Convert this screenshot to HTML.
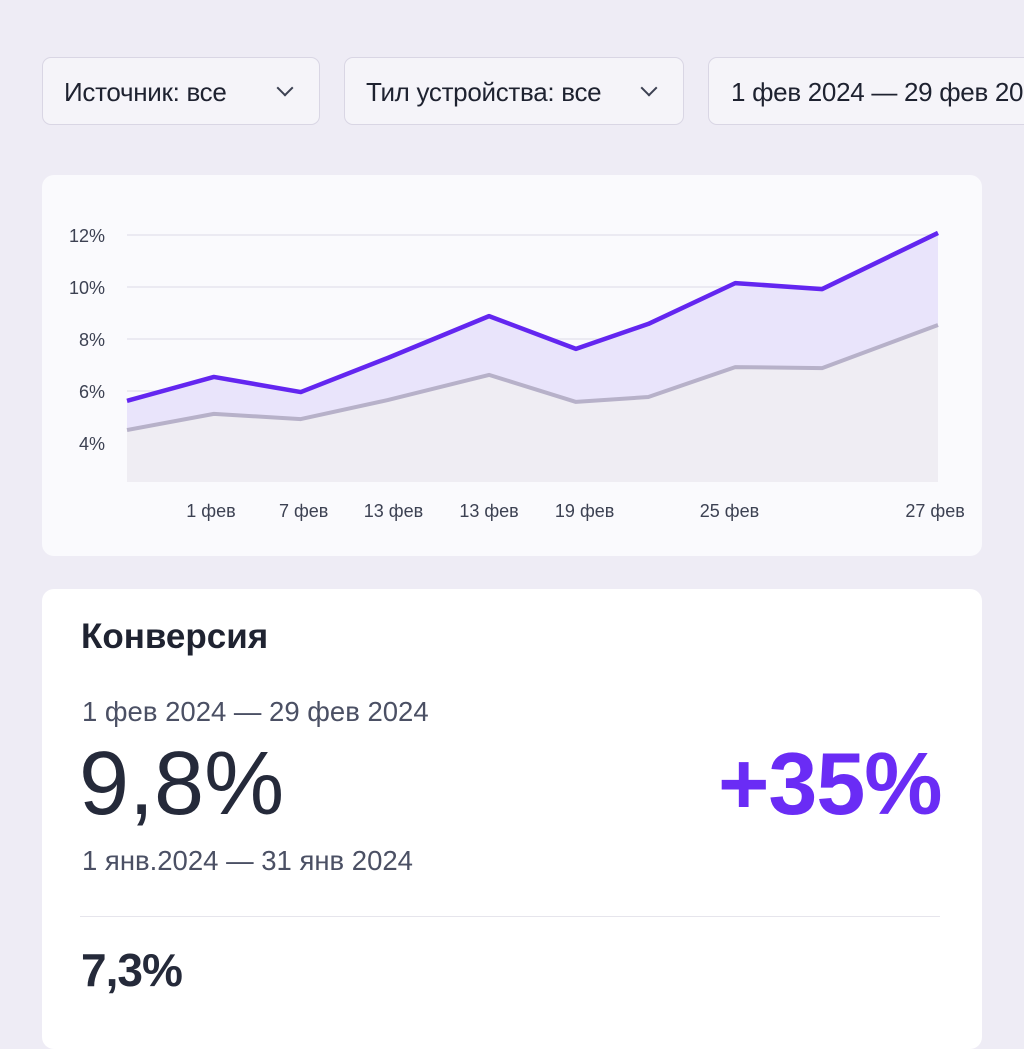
<!DOCTYPE html>
<html><head><meta charset="utf-8">
<style>
body{margin:0;width:1024px;height:1024px;overflow:hidden;background:#eeecf5;font-family:"Liberation Sans",sans-serif;color:#222736;position:relative}
.f{position:absolute;top:57px;height:68px;background:#f5f4f9;border:1px solid #d9d6e4;border-radius:9px;box-sizing:border-box;font-size:26px;line-height:68px;padding-left:21px;color:#1e2230;letter-spacing:-0.3px;white-space:nowrap;overflow:hidden}
.chev{position:absolute;top:24px;width:10px;height:10px;border-right:2.5px solid #3c4152;border-bottom:2.5px solid #3c4152;transform:rotate(45deg)}
.card{position:absolute;left:42px;width:940px;background:#fafafd;border-radius:12px}
.t{position:absolute;white-space:nowrap}
</style></head><body>
<div class="f" style="left:42px;width:278px">Источник: все<span class="chev" style="left:236px"></span></div>
<div class="f" style="left:344px;width:340px">Тил устройства: все<span class="chev" style="left:298px"></span></div>
<div class="f" style="left:708px;width:340px;padding-left:22px">1 фев 2024 — 29 фев 2024</div>

<div class="card" style="top:175px;height:381px">
<svg id="chart" width="940" height="381" style="position:absolute;left:0;top:0"></svg>
</div>

<div class="card" style="top:589px;height:460px;background:#fff">
<div class="t" style="left:39px;top:28px;font-size:35px;font-weight:bold;color:#1f2331">Конверсия</div>
<div class="t" style="left:40px;top:107px;font-size:27.5px;color:#4b5064">1 фев 2024 — 29 фев 2024</div>
<div class="t" style="left:37px;top:144px;font-size:90px;font-weight:500;color:#252a3a">9,8%</div>
<div class="t" style="left:676px;top:144px;font-size:88px;font-weight:bold;color:#6a2cf5;letter-spacing:-1px">+35%</div>
<div class="t" style="left:40px;top:256px;font-size:27.5px;color:#4b5064">1 янв.2024 — 31 янв 2024</div>
<div style="position:absolute;left:38px;top:327px;width:860px;height:1px;background:#e6e5ec"></div>
<div class="t" style="left:39px;top:354px;font-size:46px;font-weight:bold;color:#252a3a;letter-spacing:-1px">7,3%</div>
</div>

<script>
const days=[0,3,6,9,12.5,15.5,18,21,24,28];
const current=[5.62,6.54,5.96,7.27,8.88,7.62,8.58,10.15,9.92,12.08];
const previous=[4.5,5.12,4.92,5.65,6.62,5.58,5.77,6.92,6.88,8.54];
const yTicks=[4,6,8,10,12];
const xLabels=["1 фев","7 фев","13 фев","13 фев","19 фев","25 фев","27 фев"];
const xLabelDays=[2.9,6.1,9.2,12.5,15.8,20.8,27.9];
const NS="http://www.w3.org/2000/svg";
const svg=document.getElementById('chart');
const X0=85,X1=896,D1=28,YB=268,PXP=26,BOT=307;
const x=d=>X0+(d/D1)*(X1-X0);
const y=v=>YB-(v-4)*PXP;
function el(t,a){const e=document.createElementNS(NS,t);for(const k in a)e.setAttribute(k,a[k]);svg.appendChild(e);return e;}
yTicks.forEach(v=>{
 const l=el('line',{x1:X0,x2:X1,y1:y(v),y2:y(v),stroke:'#e6e4ee','stroke-width':1.5});
 
 
 const t=el('text',{x:63,y:y(v)+7,'text-anchor':'end','font-size':18,fill:'#3c4152','font-family':'Liberation Sans'});
 t.textContent=v+'%';
 
 
});
const pc=days.map((d,i)=>x(d)+','+y(current[i])).join(' ');
const pp=days.map((d,i)=>x(d)+','+y(previous[i])).join(' ');
const a1=el('polygon',{points:pc+' '+[...days].reverse().map((d,j)=>x(d)+','+y(previous[days.length-1-j])).join(' '),fill:'#e9e4fb'});


const a2=el('polygon',{points:pp+' '+x(days[days.length-1])+','+BOT+' '+x(days[0])+','+BOT,fill:'#efedf3'});


const l2=el('polyline',{points:pp,fill:'none',stroke:'#b7b1c9','stroke-width':4,'stroke-linejoin':'round'});


const l1=el('polyline',{points:pc,fill:'none',stroke:'#6326f0','stroke-width':4.5,'stroke-linejoin':'round'});


xLabels.forEach((s,i)=>{
 const t=el('text',{x:x(xLabelDays[i]),y:342,'text-anchor':'middle','font-size':18,fill:'#3c4152','font-family':'Liberation Sans'});
 t.textContent=s;
 
 
});
</script>
</body></html>
